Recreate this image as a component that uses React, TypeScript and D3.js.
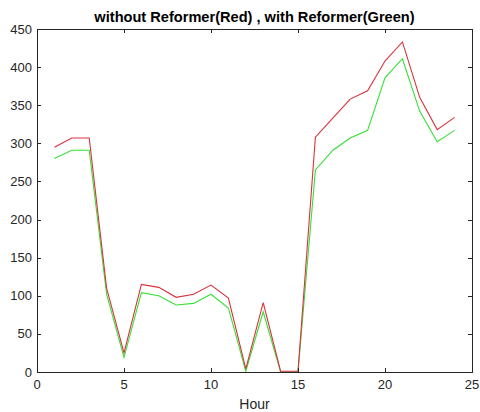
import { useEffect, useRef } from 'react';
import * as d3 from 'd3';

const WIDTH = 480;
const HEIGHT = 412;

const hours = [1, 2, 3, 4, 5, 6, 7, 8, 9, 10, 11, 12, 13, 14, 15, 16, 17, 18, 19, 20, 21, 22, 23, 24];
const withoutReformer = [295, 307, 307, 110, 25, 115, 111, 98, 102, 114, 97, 4, 91, 1, 1, 308, 333, 358, 369, 408, 433, 360, 318, 334];
const withReformer = [280, 291, 291, 102, 19, 104, 100, 88, 90, 102, 84, 1, 79, 0, 0, 265, 291, 307, 317, 386, 411, 342, 302, 317];
const xTicks = [0, 5, 10, 15, 20, 25];
const yTicks = [0, 50, 100, 150, 200, 250, 300, 350, 400, 450];

const TITLE = 'without Reformer(Red) , with Reformer(Green)';
const X_LABEL = 'Hour';

export default function App() {
  const svgRef = useRef<SVGSVGElement | null>(null);

  useEffect(() => {
    if (!svgRef.current) return;
    const svg = d3.select(svgRef.current);
    svg.selectAll('*').remove();

    const margin = { top: 29, right: 8, bottom: 40, left: 37 };
    const left = margin.left;
    const right = WIDTH - margin.right;
    const top = margin.top;
    const bottom = HEIGHT - margin.bottom;
    const axisColor = '#262626';
    const font = '"Liberation Sans", Arial, sans-serif';

    const x = d3.scaleLinear().domain([0, 25]).range([left, right]);
    const y = d3.scaleLinear().domain([0, 450]).range([bottom, top]);

    svg.append('rect').attr('width', WIDTH).attr('height', HEIGHT).attr('fill', '#ffffff');

    const line = d3
      .line<number>()
      .x((_, i) => x(hours[i]))
      .y((v) => y(v));

    svg
      .append('path')
      .datum(withReformer)
      .attr('d', line)
      .attr('fill', 'none')
      .attr('stroke', '#35e035')
      .attr('stroke-width', 1.1);

    svg
      .append('path')
      .datum(withoutReformer)
      .attr('d', line)
      .attr('fill', 'none')
      .attr('stroke', '#d9323c')
      .attr('stroke-width', 1.1);

    // box
    svg
      .append('rect')
      .attr('x', left + 0.5)
      .attr('y', top + 0.5)
      .attr('width', right - left)
      .attr('height', bottom - top)
      .attr('fill', 'none')
      .attr('stroke', axisColor)
      .attr('stroke-width', 1);

    const tickLen = 4;
    const g = svg.append('g').attr('stroke', axisColor).attr('stroke-width', 1);
    xTicks.forEach((t) => {
      const px = Math.round(x(t)) + 0.5;
      g.append('line').attr('x1', px).attr('x2', px).attr('y1', bottom).attr('y2', bottom - tickLen);
      g.append('line').attr('x1', px).attr('x2', px).attr('y1', top).attr('y2', top + tickLen);
    });
    yTicks.forEach((t) => {
      const py = Math.round(y(t)) + 0.5;
      g.append('line').attr('x1', left).attr('x2', left + tickLen).attr('y1', py).attr('y2', py);
      g.append('line').attr('x1', right).attr('x2', right - tickLen).attr('y1', py).attr('y2', py);
    });

    svg
      .append('g')
      .selectAll('text')
      .data(xTicks)
      .enter()
      .append('text')
      .attr('x', (d) => x(d))
      .attr('y', bottom + 17)
      .attr('text-anchor', 'middle')
      .attr('font-family', font)
      .attr('font-size', 13)
      .attr('fill', axisColor)
      .text((d) => d);

    svg
      .append('g')
      .selectAll('text')
      .data(yTicks)
      .enter()
      .append('text')
      .attr('x', left - 5)
      .attr('y', (d) => y(d) + 4.5)
      .attr('text-anchor', 'end')
      .attr('font-family', font)
      .attr('font-size', 13)
      .attr('fill', axisColor)
      .text((d) => d);

    svg
      .append('text')
      .attr('x', (left + right) / 2)
      .attr('y', HEIGHT - 3)
      .attr('text-anchor', 'middle')
      .attr('font-family', font)
      .attr('font-size', 14)
      .attr('fill', axisColor)
      .text(X_LABEL);

    svg
      .append('text')
      .attr('x', (left + right) / 2)
      .attr('y', top - 7)
      .attr('text-anchor', 'middle')
      .attr('font-family', font)
      .attr('font-size', 14.6)
      .attr('font-weight', 700)
      .attr('fill', '#000000')
      .text(TITLE);
  }, []);

  return (
    <svg
      ref={svgRef}
      width={WIDTH}
      height={HEIGHT}
      viewBox={`0 0 ${WIDTH} ${HEIGHT}`}
      style={{ position: 'absolute', left: 0, top: 0 }}
    />
  );
}
